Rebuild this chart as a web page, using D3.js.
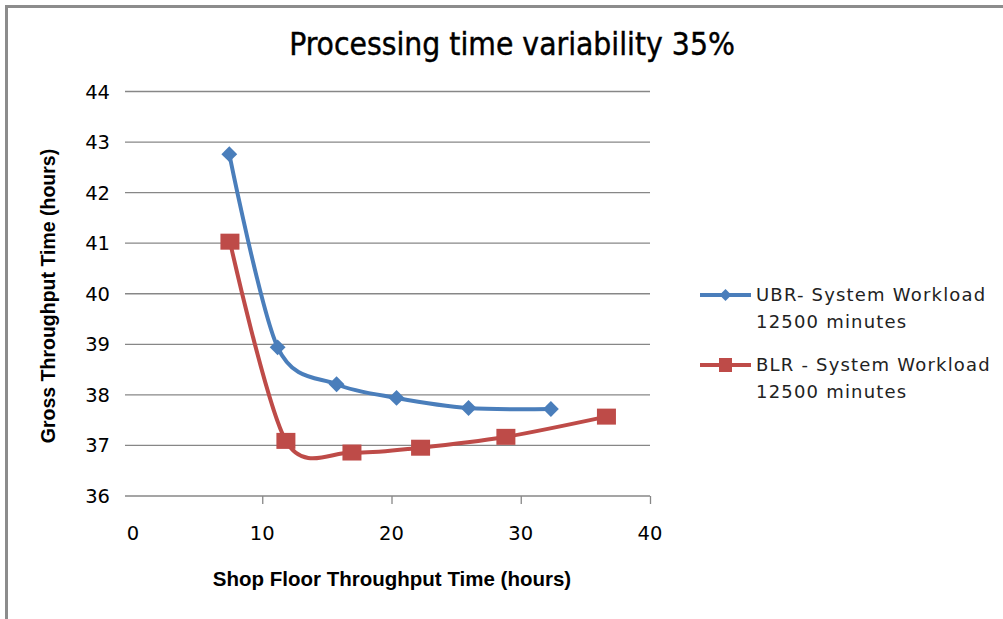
<!DOCTYPE html>
<html>
<head>
<meta charset="utf-8">
<script src="https://cdn.jsdelivr.net/npm/d3@7"></script>
<style>
  body { margin: 0; background: #fff; }
  svg { display: block; }
</style>
</head>
<body>
<svg id="chart"></svg>
<script>
const ubrX = [7.45, 11.19, 15.75, 20.39, 25.96, 32.33];
const ubrY = [42.76, 38.94, 38.21, 37.94, 37.74, 37.72];
const blrX = [7.5, 11.83, 16.94, 22.25, 28.85, 36.63];
const blrY = [41.03, 37.09, 36.86, 36.955, 37.17, 37.57];
const xTicks = [0, 10, 20, 30, 40];
const yTicks = [36, 37, 38, 39, 40, 41, 42, 43, 44];
const seriesNames = [["UBR- System Workload", "12500 minutes"], ["BLR - System Workload", "12500 minutes"]];

const width = 1003, height = 619;
const plotLeft = 133, plotRight = 650, plotTop = 91.5, plotBottom = 496;

const svg = d3.select("#chart")
    .attr("width", width)
    .attr("height", height);

// frame (only left and top edges visible)
svg.append("path")
    .attr("d", "M6.5,619 L6.5,6.5 L1003,6.5")
    .attr("fill", "none")
    .attr("stroke", "#8c8c8c")
    .attr("stroke-width", 3);

const x = d3.scaleLinear().domain([0, 40]).range([plotLeft, plotRight]);
const y = d3.scaleLinear().domain([36, 44]).range([plotBottom, plotTop]);

// gridlines
svg.append("g")
    .selectAll("line")
    .data(yTicks)
    .enter()
    .append("line")
    .attr("x1", plotLeft - 8)
    .attr("x2", plotRight)
    .attr("y1", d => y(d))
    .attr("y2", d => y(d))
    .attr("stroke", "#878787")
    .attr("stroke-width", 1.3);

// y tick labels
svg.append("g")
    .selectAll("text")
    .data(yTicks)
    .enter()
    .append("text")
    .attr("x", 110)
    .attr("y", d => y(d) + 7)
    .attr("text-anchor", "end")
    .attr("font-family", "DejaVu Sans")
    .attr("font-size", 19.5)
    .attr("fill", "#000")
    .text(d => d);

// x axis ticks
const xAxis = d3.axisBottom(x).tickValues(xTicks).tickSize(8).tickFormat("");
const gx = svg.append("g")
    .attr("transform", "translate(0," + plotBottom + ")")
    .call(xAxis);
gx.select(".domain").remove();
gx.selectAll(".tick line").attr("stroke", "#878787").attr("stroke-width", 1.3);
gx.selectAll(".tick").filter(d => d === 0).select("line").remove();

svg.append("g")
    .selectAll("text")
    .data(xTicks)
    .enter()
    .append("text")
    .attr("x", d => x(d))
    .attr("y", 540)
    .attr("text-anchor", "middle")
    .attr("font-family", "DejaVu Sans")
    .attr("font-size", 19.5)
    .text(d => d);

// titles
svg.append("text")
    .attr("x", 512)
    .attr("y", 55)
    .attr("text-anchor", "middle")
    .attr("font-family", "Liberation Sans Narrow, DejaVu Sans Condensed, sans-serif")
    .attr("font-size", 31.5)
    .attr("stroke", "#000")
    .attr("stroke-width", 0.4)
    .text("Processing time variability 35%");

svg.append("text")
    .attr("transform", "translate(55,296) rotate(-90)")
    .attr("text-anchor", "middle")
    .attr("font-family", "Liberation Sans, sans-serif")
    .attr("font-weight", "bold")
    .attr("font-size", 19.5)
    .text("Gross Throughput Time (hours)");

svg.append("text")
    .attr("x", 392)
    .attr("y", 586)
    .attr("text-anchor", "middle")
    .attr("font-family", "Liberation Sans, sans-serif")
    .attr("font-weight", "bold")
    .attr("font-size", 20.5)
    .text("Shop Floor Throughput Time (hours)");

// lines
const line = d3.line()
    .x(d => x(d[0]))
    .y(d => y(d[1]))
    .curve(d3.curveCardinal.tension(0.1));

const ubr = ubrX.map((v, i) => [v, ubrY[i]]);
const blr = blrX.map((v, i) => [v, blrY[i]]);
const blue = "#4a7ebb", red = "#be4b48";

svg.append("path")
    .datum(ubr)
    .attr("d", line)
    .attr("fill", "none")
    .attr("stroke", blue)
    .attr("stroke-width", 4);

svg.append("path")
    .datum(blr)
    .attr("d", line)
    .attr("fill", "none")
    .attr("stroke", red)
    .attr("stroke-width", 4);

const diamond = d3.symbol().type(d3.symbolDiamond2);

svg.append("g")
    .selectAll("path")
    .data(ubr)
    .enter()
    .append("path")
    .attr("d", diamond.size(160))
    .attr("transform", d => "translate(" + x(d[0]) + "," + y(d[1]) + ")")
    .attr("fill", blue);

svg.append("g")
    .selectAll("rect")
    .data(blr)
    .enter()
    .append("rect")
    .attr("x", d => x(d[0]) - 9.5)
    .attr("y", d => y(d[1]) - 8)
    .attr("width", 19)
    .attr("height", 16)
    .attr("fill", red);

// legend
const legend = svg.append("g");
const legY = [295, 365];
const legColors = [blue, red];

legend.selectAll("line")
    .data(legY)
    .enter()
    .append("line")
    .attr("x1", 700)
    .attr("x2", 751)
    .attr("y1", d => d)
    .attr("y2", d => d)
    .attr("stroke", (d, i) => legColors[i])
    .attr("stroke-width", 4);

legend.append("path")
    .attr("d", d3.symbol().type(d3.symbolDiamond2).size(90)())
    .attr("transform", "translate(725.5," + legY[0] + ")")
    .attr("fill", blue);

legend.append("rect")
    .attr("x", 719)
    .attr("y", legY[1] - 7)
    .attr("width", 13)
    .attr("height", 14)
    .attr("fill", red);

seriesNames.forEach((lines, i) => {
    lines.forEach((t, j) => {
        legend.append("text")
            .attr("x", 756)
            .attr("y", legY[i] + 6 + j * 27)
            .attr("font-family", "DejaVu Sans")
            .attr("font-size", 18)
            .attr("letter-spacing", 1.2)
            .attr("fill", "#222")
            .text(t);
    });
});
</script>
</body>
</html>
